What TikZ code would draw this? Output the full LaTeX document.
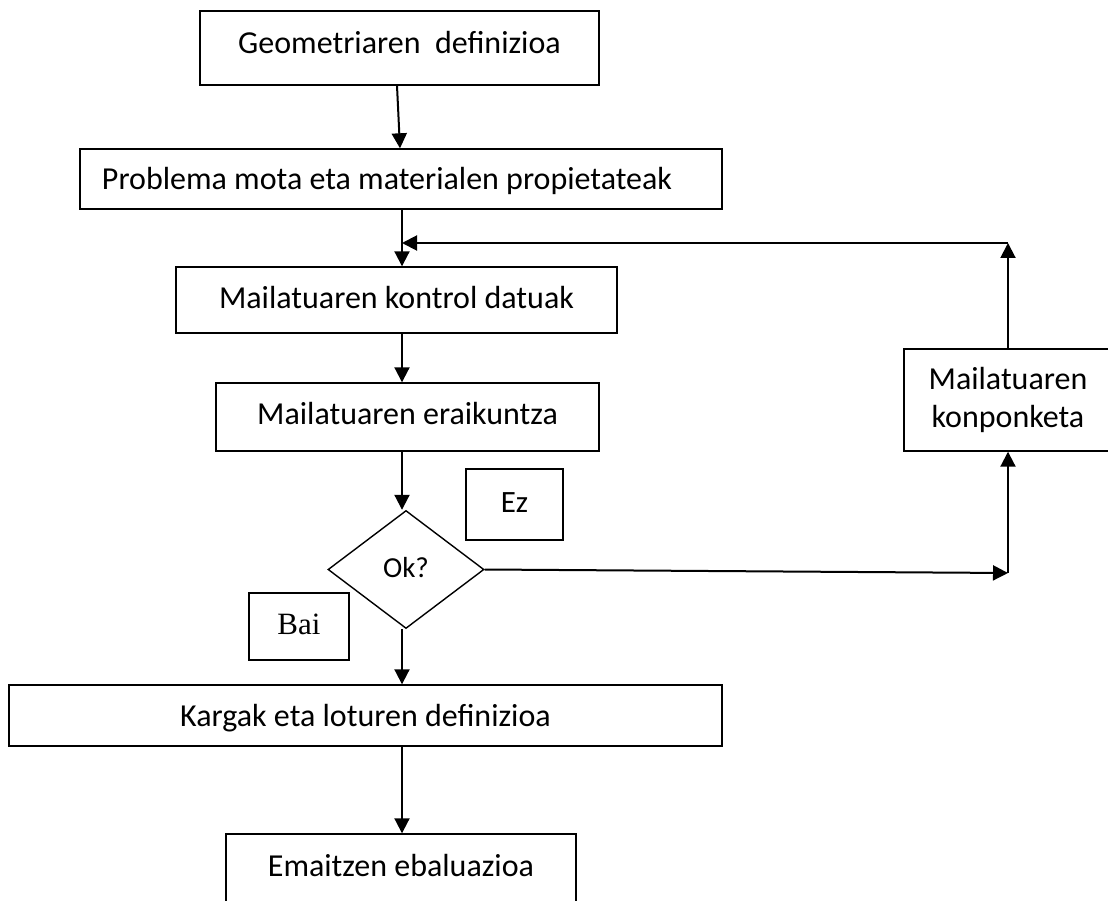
\documentclass[tikz,border=0pt]{standalone}
\usepackage{fontspec}
\setmainfont{Carlito}
\newfontfamily\serifbai{Liberation Serif}
\usetikzlibrary{arrows.meta,shapes.geometric}
\begin{document}
\begin{tikzpicture}[x=1pt,y=-1pt,
  boxbase/.style={draw, line width=1.4pt, inner sep=0pt, font=\fontsize{32}{39}\selectfont},
  box/.style={boxbase, text height=21pt, text depth=0pt},
  arr/.style={line width=2pt, -{Triangle[length=15pt,width=15pt]}},
  ]
\path[use as bounding box, fill=white] (0,0) rectangle (1108,901);
\clip (0,0) rectangle (1108,901);

\coordinate (col) at (402,0);
\coordinate (q1) at (1008,573);
\coordinate (q2) at (1008,243);

\node[box, minimum width=399pt, minimum height=74pt, text depth=10pt] (g) at (399.5,48) {Geometriaren\ \ definizioa};
\node[box, minimum width=642pt, minimum height=60pt] (p) at (401,179) {\hspace*{-28pt}Problema mota eta materialen propietateak};
\node[box, minimum width=441pt, minimum height=66pt, text depth=4pt] (c) at (396.5,300) {Mailatuaren kontrol datuak};
\node[box, minimum width=383pt, minimum height=68pt, text depth=6pt] (e) at (407.5,417) {Mailatuaren eraikuntza};
\node[draw, diamond, aspect=1.32, minimum width=156pt, minimum height=118pt, inner sep=0pt, line width=1.4pt,
      font=\fontsize{29}{35}\selectfont, text height=19pt, text depth=4pt] (ok) at (406,569.5) {Ok?};
\node[box, minimum width=97pt, minimum height=71pt, text depth=5pt, font=\fontsize{31}{37}\selectfont] (ez) at (514.5,504.5) {Ez};
\node[box, minimum width=100pt, minimum height=67pt, text depth=5pt, font=\serifbai\fontsize{31}{37}\selectfont] (bai) at (299,626.5) {Bai};
\node[box, minimum width=713pt, minimum height=61pt] (k) at (365.5,715.5) {Kargak eta loturen definizioa};
\node[box, minimum width=350pt, minimum height=120pt, text depth=56pt] (em) at (401,894) {Emaitzen ebaluazioa};
\node[boxbase, align=center, minimum width=208pt, minimum height=102pt, font=\fontsize{32}{38.5}\selectfont] (r) at (1008,400) {Mailatuaren\\konponketa};

\draw[arr] ([xshift=-2.5pt]g.south) -- ([xshift=-1pt]p.north);
\draw[arr] (p.south -| col) -- (c.north -| col);
\draw[arr] (c.south -| col) -- (e.north -| col);
\draw[arr] (e.south -| col) -- (ok.north -| col);
\draw[arr] (ok.south -| col) -- (k.north -| col);
\draw[arr] (k.south -| col) -- (em.north -| col);
\draw[arr] (ok.east) -- (q1);
\draw[arr] (q1) -- (r.south);
\draw[arr] (r.north) -- (q2);
\draw[arr] (q2) -- (q2 -| col);
\end{tikzpicture}
\end{document}
